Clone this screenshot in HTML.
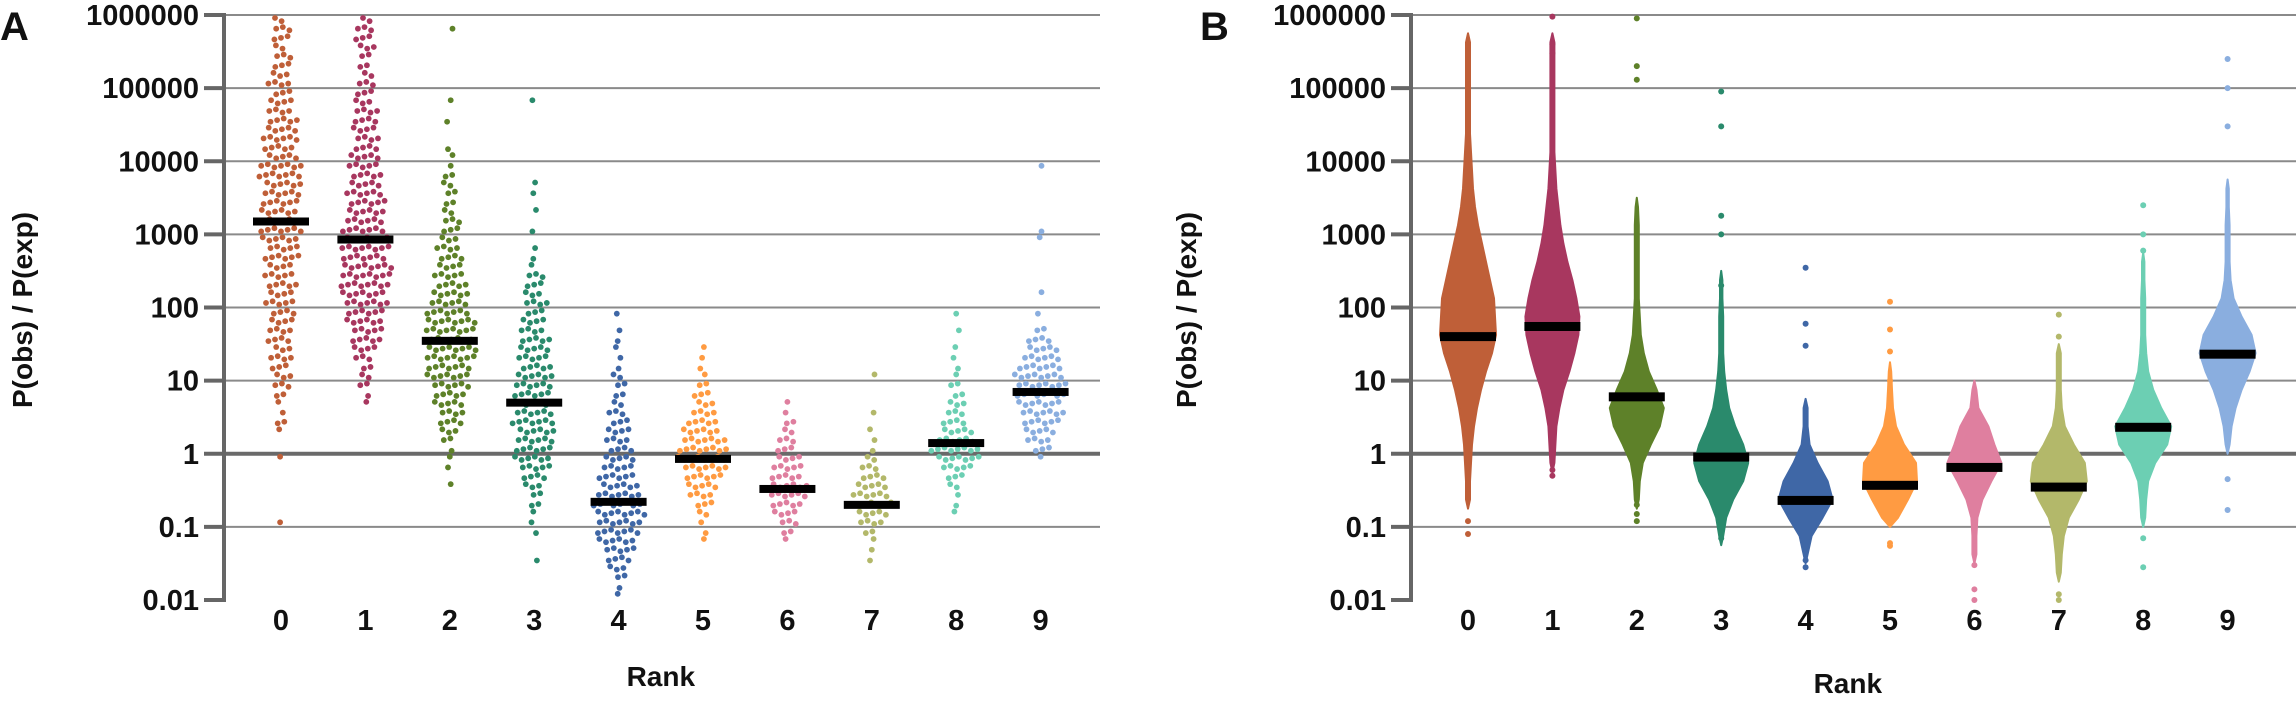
<!DOCTYPE html>
<html><head><meta charset="utf-8">
<style>
html,body{margin:0;padding:0;background:#fff;}
svg{display:block;}
text{font-family:"Liberation Sans",Arial,sans-serif;font-weight:bold;fill:#111;}
</style></head>
<body>
<svg id="chart" width="2296" height="703" viewBox="0 0 2296 703" xmlns="http://www.w3.org/2000/svg">
<g id="panelA"></g>
<g id="panelB"></g>
</svg>
<script>
// ---------- data ----------
const categories = ["0","1","2","3","4","5","6","7","8","9"];
const tickValues = [0.01,0.1,1,10,100,1000,10000,100000,1000000];
const tickLabels = ["0.01","0.1","1","10","100","1000","10000","100000","1000000"];
const colors = ["#bf5f38","#a8375f","#5e8129","#2a8a6c","#3f67a6","#ff9b42","#df7f9f","#b3b86a","#6ccfb3","#8aaedf"];
// Panel A: dot counts per 1/8-decade bin, from 0.01 upward (64 bins)
const swarmA0 = [0,0,0,0,0,0,0,0, 1,0,0,0,0,0,0,1, 0,0,1,2,1,1,2,3, 3,3,4,3,4,4,4,4, 5,4,5,5,4,6,5,6, 7,7,6,6,6,6,7,7, 5,5,6,5,5,4,4,3, 4,3,3,3,2,3,3,2];
const swarmA1 = [0,0,0,0,0,0,0,0, 0,0,0,0,0,0,0,0, 0,0,0,0,0,1,1,2, 2,2,3,4,5,5,6,6, 7,7,8,8,8,7,8,7, 7,6,6,6,6,5,5,5, 5,4,4,4,4,4,3,3, 3,2,2,2,3,3,3,2];
const swarmA2 = [0,0,0,0,0,0,0,0, 0,0,0,0,1,0,1,1, 1,2,3,4,4,5,5,6, 7,7,8,8,8,8,8,7, 6,6,5,5,4,4,4,3, 3,3,2,2,2,2,2,1, 1,1,0,0,1,0,1,0, 0,0,0,0,0,0,1,0];
const swarmA3 = [0,0,0,0,1,0,0,1, 1,1,2,2,3,4,5,6, 6,6,6,7,6,6,6,6, 6,5,5,5,5,4,4,3, 4,3,3,3,1,1,1,0, 1,0,1,0,1,1,0,0, 0,0,0,0,0,0,1,0, 0,0,0,0,0,0,0,0];
const swarmA4 = [1,1,2,3,4,5,6,7, 7,8,8,7,6,6,5,5, 4,4,4,3,3,2,2,2, 2,1,1,1,1,1,0,1, 0,0,0,0,0,0,0,0, 0,0,0,0,0,0,0,0, 0,0,0,0,0,0,0,0, 0,0,0,0,0,0,0,0];
const swarmA5 = [0,0,0,0,0,0,1,1, 1,2,3,4,5,6,7,8, 8,7,6,5,4,3,3,2, 1,1,1,1,0,0,0,0, 0,0,0,0,0,0,0,0, 0,0,0,0,0,0,0,0, 0,0,0,0,0,0,0,0, 0,0,0,0,0,0,0,0];
const swarmA6 = [0,0,0,0,0,0,1,2, 3,4,5,6,6,5,5,4, 3,3,2,2,1,1,0,0, 0,0,0,0,0,0,0,0, 0,0,0,0,0,0,0,0, 0,0,0,0,0,0,0,0, 0,0,0,0,0,0,0,0, 0,0,0,0,0,0,0,0];
const swarmA7 = [0,0,0,0,1,1,1,2, 4,5,6,6,5,4,3,2, 1,1,1,0,1,0,0,0, 1,0,0,0,0,0,0,0, 0,0,0,0,0,0,0,0, 0,0,0,0,0,0,0,0, 0,0,0,0,0,0,0,0, 0,0,0,0,0,0,0,0];
const swarmA8 = [0,0,0,0,0,0,0,0, 0,1,1,1,2,3,5,7, 8,6,5,4,3,3,2,2, 1,1,1,1,0,1,0,1, 0,0,0,0,0,0,0,0, 0,0,0,0,0,0,0,0, 0,0,0,0,0,0,0,0, 0,0,0,0,0,0,0,0];
const swarmA9 = [0,0,0,0,0,0,0,0, 0,0,0,0,0,0,0,1, 3,4,5,6,7,7,8,8, 8,7,6,5,4,2,0,1, 0,1,0,0,0,0,0,1, 1,0,0,0,0,0,0,1, 0,0,0,0,0,0,0,0, 0,0,0,0,0,0,0,0];
const mediansA = [1500,850,35,5,0.22,0.85,0.33,0.2,1.4,7];
// Panel B: violin half-widths (px) per 1/4-decade bin from 0.01 upward (32 bins)
const violinB0 = [0,0,0,0, 0,2,2,3, 4,6,9,13, 18,24,28,27, 26,22,18,14, 10,7,5,4, 3,2,2,2, 2,2,2,0];
const violinB1 = [0,0,0,0, 0,0,0,2, 3,4,7,11, 17,22,26,27, 24,20,15,11, 8,6,4,3, 2,2,2,2, 2,2,2,0];
const violinB2 = [0,0,0,0, 0,2,3,6, 14,23,27,20, 12,7,4,3, 2,2,2,2, 2,1,0,0, 0,0,0,0, 0,0,0,0];
const violinB3 = [0,0,0,2, 5,12,22,27, 22,14,8,5, 3,2,2,2, 1,1,0,0, 0,0,0,0, 0,0,0,0, 0,0,0,0];
const violinB4 = [0,0,2,6, 17,27,22,12, 4,2,2,0, 0,0,0,0, 0,0,0,0, 0,0,0,0, 0,0,0,0, 0,0,0,0];
const violinB5 = [0,0,0,0, 8,18,27,26, 14,6,3,2, 1,0,0,0, 0,0,0,0, 0,0,0,0, 0,0,0,0, 0,0,0,0];
const violinB6 = [0,0,2,2, 3,8,17,27, 20,14,4,2, 0,0,0,0, 0,0,0,0, 0,0,0,0, 0,0,0,0, 0,0,0,0];
const violinB7 = [0,2,3,5, 10,20,28,26, 15,6,3,2, 2,2,0,0, 0,0,0,0, 0,0,0,0, 0,0,0,0, 0,0,0,0];
const violinB8 = [0,0,0,0, 2,3,5,12, 24,28,18,10, 5,3,2,2, 2,1,1,0, 0,0,0,0, 0,0,0,0, 0,0,0,0];
const violinB9 = [0,0,0,0, 0,0,0,0, 2,4,8,14, 22,28,24,14, 6,3,2,2, 2,1,1,0, 0,0,0,0, 0,0,0,0];
const outliersB0 = [0.08,0.12];
const outliersB1 = [0.5,0.6,1,300000,400000,950000];
const outliersB2 = [0.12,0.15,0.2,130000,200000,900000];
const outliersB3 = [0.07,200,1000,1800,30000,90000];
const outliersB4 = [0.028,0.035,30,60,350];
const outliersB5 = [0.055,0.06,5,10,25,50,120];
const outliersB6 = [0.01,0.014,0.03];
const outliersB7 = [0.01,0.012,40,80];
const outliersB8 = [0.028,0.07,600,1000,2500];
const outliersB9 = [0.17,0.45,30000,100000,250000];
const mediansB = [40,55,6,0.9,0.23,0.37,0.65,0.35,2.3,23];

const swarmsA = [swarmA0,swarmA1,swarmA2,swarmA3,swarmA4,swarmA5,swarmA6,swarmA7,swarmA8,swarmA9];
const violinsB = [violinB0,violinB1,violinB2,violinB3,violinB4,violinB5,violinB6,violinB7,violinB8,violinB9];
const outliersB = [outliersB0,outliersB1,outliersB2,outliersB3,outliersB4,outliersB5,outliersB6,outliersB7,outliersB8,outliersB9];

// ---------- helpers ----------
const NS = "http://www.w3.org/2000/svg";
function mk(tag, attrs, parent){const e=document.createElementNS(NS,tag);for(const k in attrs)e.setAttribute(k,attrs[k]);parent.appendChild(e);return e;}
const yTop = 15, yBot = 600;
function yScale(v){return yBot - (Math.log10(v) + 2) * (yBot - yTop) / 8;}

function drawFrame(g, axisX, gridEnd, labelRight, firstCatX, letter, letterX, titleX, rankY){
  const step = 84.4;
  const xScale = i => firstCatX + i * step;
  tickValues.forEach((v,i)=>{
    const y = yScale(v);
    if(i>0){
      const gl = mk("line",{x1:axisX,x2:gridEnd,y1:y,y2:y,stroke: v===1?"#6a6a6a":"#8a8a8a","stroke-width": v===1?4:2},g);
      
      
    }
    const tk = mk("line",{x1:axisX-20,x2:axisX,y1:y,y2:y,stroke:"#666","stroke-width":4},g);
    
    
    const t = mk("text",{x:labelRight,y:y+10,"text-anchor":"end","font-size":29},g);
    t.textContent = tickLabels[i];
    
    
  });
  const ax = mk("line",{x1:axisX,x2:axisX,y1:yTop-2,y2:yBot+2,stroke:"#666","stroke-width":4},g);
  
  
  categories.forEach((c,i)=>{
    const t = mk("text",{x:xScale(i),y:630,"text-anchor":"middle","font-size":29},g);
    t.textContent = c;
    
    
  });
  const r = mk("text",{x:firstCatX + 4.5*step,y:rankY,"text-anchor":"middle","font-size":28},g);
  r.textContent = "Rank";
  
  
  const yt = mk("text",{x:0,y:0,"text-anchor":"middle","font-size":28,transform:`translate(${titleX},310) rotate(-90)`},g);
  yt.textContent = "P(obs) / P(exp)";
  
  
  const L = mk("text",{x:letterX,y:40,"font-size":40},g);
  L.textContent = letter;
  
  
  return xScale;
}

// ---------- Panel A ----------
const gA = document.getElementById("panelA");
const xA = drawFrame(gA, 224, 1100, 199, 281, "A", 0, 32, 686);
swarmsA.forEach((bins,ci)=>{
  const cg = mk("g",{fill:colors[ci]},gA);
  
  
  bins.forEach((n,bi)=>{
    if(!n) return;
    const v = Math.pow(10, -2 + (bi+0.5)/8);
    const y = yScale(v);
    const off = ((bi*37 + ci*11) % 7 - 3) * 0.9;
    for(let j=0;j<n;j++){
      const x = xA(ci) + (j-(n-1)/2)*6.6 + off;
      const dy = (((j+bi)*5) % 3 - 1) * 1.6;
      const d = mk("circle",{cx:x,cy:y+dy,r:2.9},cg);
      
      
    }
  });
  const m = mk("rect",{x:xA(ci)-28,y:yScale(mediansA[ci])-4,width:56,height:8,fill:"#000"},gA);
  
  
});

// ---------- Panel B ----------
const gB = document.getElementById("panelB");
const xB = drawFrame(gB, 1411, 2296, 1386, 1468, "B", 1200, 1196, 693);
violinsB.forEach((w,ci)=>{
  let lo = w.findIndex(v=>v>0), hi = w.length-1 - [...w].reverse().findIndex(v=>v>0);
  const cx = xB(ci);
  const pts = [];
  const yAt = b => yScale(Math.pow(10, -2 + (b+0.5)/4));
  pts.push([cx, yScale(Math.pow(10,-2+lo/4))]);
  for(let b=lo;b<=hi;b++) pts.push([cx + Math.max(w[b],1.2), yAt(b)]);
  pts.push([cx, yScale(Math.pow(10,-2+(hi+1)/4))]);
  for(let b=hi;b>=lo;b--) pts.push([cx - Math.max(w[b],1.2), yAt(b)]);
  const p = mk("polygon",{points:pts.map(q=>q[0].toFixed(1)+","+q[1].toFixed(1)).join(" "),fill:colors[ci],stroke:colors[ci],"stroke-width":2,"stroke-linejoin":"round"},gB);
  
  
  outliersB[ci].forEach(v=>{
    const d = mk("circle",{cx:cx,cy:yScale(v),r:3,fill:colors[ci]},gB);
    
    
  });
  const m = mk("rect",{x:cx-28,y:yScale(mediansB[ci])-4.5,width:56,height:9,fill:"#000"},gB);
  
  
});
</script>
</body></html>
